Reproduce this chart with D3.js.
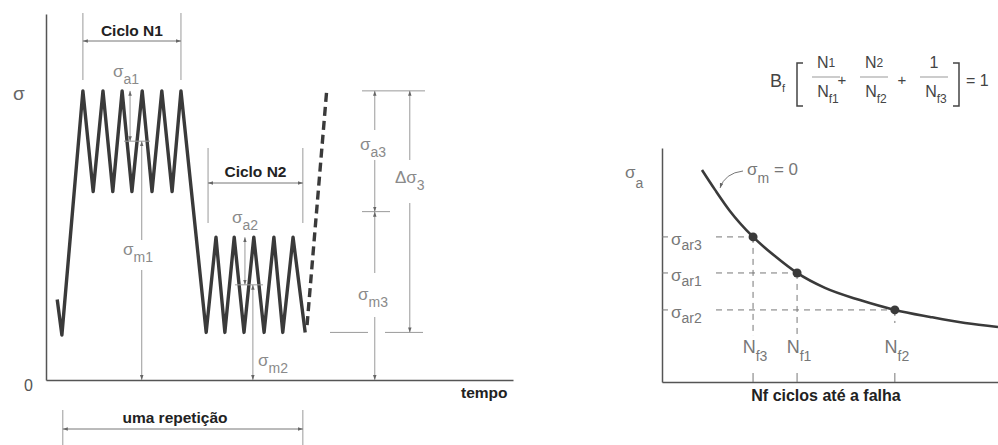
<!DOCTYPE html>
<html><head><meta charset="utf-8">
<script src="https://cdn.jsdelivr.net/npm/d3@7"></script>
<style>
body{margin:0;background:#fff;}
svg{display:block;font-family:"Liberation Sans",Arial,sans-serif;}
</style>
</head><body>
<svg id="c" width="998" height="445"></svg>
<script>
// ---------- data: left panel (stress history) ----------
const timeVals   = [2.4, 3.4, 7.9, 10.1, 12.2, 14.3, 16.3, 18.4, 20.6, 22.7, 24.8, 27.0, 28.9,
                    34.3, 36.4, 38.3, 40.3, 42.4, 44.5, 46.7, 48.8, 50.7, 52.9, 55.5];
const stressVals = [22, 12.3, 79, 51.5, 79, 51.5, 79, 51.5, 79, 51.5, 79, 51.5, 79,
                    13, 39, 13, 39, 13, 39, 13, 39, 13, 39, 13];
const nextTime   = [55.9, 60.1];
const nextStress = [15, 79];
const cycleLabels = ["Ciclo N1", "Ciclo N2"];
const cycleStart  = [7.9, 34.7];
const cycleEnd    = [28.9, 55.0];
const blockMax    = [79, 39, 79];
const blockMin    = [51.5, 13, 13];
const blockSubs   = ["1", "2", "3"];

// ---------- data: right panel (S-N curve) ----------
const nCycles  = [11.9, 15.8, 20.2, 27.1, 33.6, 40.2, 48.5, 58.9, 69.3, 79.8, 90.2, 100];
const ampVals  = [90.6, 82.1, 73.1, 62.0, 53.8, 46.6, 40.2, 35.0, 30.8, 27.8, 25.2, 23.5];
const failN    = [27.1, 40.2, 69.3];
const failAmp  = [62.0, 46.6, 30.8];
const ampSubs  = ["ar3", "ar1", "ar2"];
const nSubs    = ["f3", "f1", "f2"];

const svg = d3.select("#c");
const GRAY = "#8a8a8a", LINE = "#9a9a9a", DARK = "#3a3a3a";
const BOLD = 15.5;

const defs = svg.append("defs");
defs.append("marker").attr("id","ar").attr("viewBox","0 0 10 10")
  .attr("refX",10).attr("refY",5).attr("markerWidth",5).attr("markerHeight",5)
  .attr("orient","auto-start-reverse")
  .append("path").attr("d","M0,1.5L10,5L0,8.5z").attr("fill","#666");

function seg(g, x1, y1, x2, y2, start, end, color) {
  const l = g.append("line").attr("x1",x1).attr("y1",y1).attr("x2",x2).attr("y2",y2)
    .attr("stroke", color || LINE).attr("stroke-width",1);
  if (start) l.attr("marker-start","url(#ar)");
  if (end) l.attr("marker-end","url(#ar)");
  return l;
}
function sig(g, x, y, sub, o) {
  o = o || {};
  const t = g.append("text").attr("x",x).attr("y",y).attr("fill",o.color||GRAY);
  t.append("tspan").attr("font-size",o.size||17).text(o.main||"σ");
  t.append("tspan").attr("font-size",o.subSize||14).attr("dy",o.dy||7).text(sub);
  return t;
}

// ================= LEFT PANEL =================
const xL = d3.scaleLinear().domain([0,100]).range([46,513]);
const yL = d3.scaleLinear().domain([0,100]).range([380,14]);
const L = svg.append("g");

L.append("g").attr("transform",`translate(0,${yL(0)})`)
  .call(d3.axisBottom(xL).ticks(0).tickSizeOuter(0))
  .call(g=>g.select(".domain").attr("stroke","#555").attr("stroke-width",1.5));
L.append("g").attr("transform",`translate(${xL(0)},0)`)
  .call(d3.axisLeft(yL).tickValues([0]).tickSize(0).tickPadding(13).tickSizeOuter(0))
  .call(g=>g.select(".domain").attr("stroke","#555").attr("stroke-width",1.5))
  .call(g=>g.selectAll("text").attr("font-size",16).attr("fill","#555")
    .attr("font-family","Liberation Sans, Arial, sans-serif").attr("dy","0.65em"));

L.append("text").attr("x",13).attr("y",100).attr("font-size",19).attr("fill","#666").text("σ");
L.append("text").attr("x",461).attr("y",398).attr("font-size",BOLD).attr("font-weight","bold")
  .attr("fill","#222").text("tempo");

// waveform
const wave = timeVals.map((t,i)=>[t, stressVals[i]]);
const lineL = d3.line().x(d=>xL(d[0])).y(d=>yL(d[1]));
L.append("path").datum(wave).attr("d",lineL).attr("fill","none")
  .attr("stroke",DARK).attr("stroke-width",3.4).attr("stroke-linejoin","round");
L.append("path").datum(nextTime.map((t,i)=>[t,nextStress[i]])).attr("d",lineL)
  .attr("fill","none").attr("stroke",DARK).attr("stroke-width",3.4)
  .attr("stroke-dasharray","9,5");

// cycle brackets
const cycTop = [13, 148], cycBot = [80, 223], cycArrowY = [41, 183], cycTextY = [36, 177];
cycleLabels.forEach((lab,i)=>{
  const x1 = xL(cycleStart[i]), x2 = xL(cycleEnd[i]);
  seg(L, x1, cycTop[i], x1, cycBot[i]);
  seg(L, x2, cycTop[i], x2, cycBot[i]);
  seg(L, x1, cycArrowY[i], x2, cycArrowY[i], true, true, "#777");
  L.append("text").attr("x",(x1+x2)/2).attr("y",cycTextY[i]).attr("text-anchor","middle")
    .attr("font-size",BOLD).attr("font-weight","bold").attr("fill","#222").text(lab);
});

// block 1 amplitude / mean
{
  const mean = (blockMax[0]+blockMin[0])/2, xa = xL(18.0), xm = xL(20.5);
  seg(L, xa, yL(blockMax[0]), xa, yL(mean), true, true);
  seg(L, xa-6, yL(mean), xa+20, yL(mean));
  seg(L, xm, yL(mean), xm, 240, true, false);
  seg(L, xm, 270, xm, yL(0), false, true);
  sig(L, 113, 77, "a"+blockSubs[0]);
  sig(L, 123, 255, "m"+blockSubs[0]);
}
// block 2
{
  const mean = (blockMax[1]+blockMin[1])/2, xa = xL(42.6), xm = xL(44.3);
  seg(L, xa, yL(blockMax[1]), xa, yL(mean), true, true);
  seg(L, xa-10, yL(mean), xa+18, yL(mean));
  seg(L, xm, yL(mean), xm, yL(0), true, true);
  sig(L, 232, 223, "a"+blockSubs[1]);
  sig(L, 258, 366, "m"+blockSubs[1]);
}
// block 3
{
  const mean = (blockMax[2]+blockMin[2])/2, xs = xL(70.4), xd = xL(77.9);
  const yT = yL(blockMax[2]), yB = yL(blockMin[2]), yM = yL(mean);
  seg(L, 362, yT, 425, yT);
  seg(L, 330, yB, 368, yB);
  seg(L, 385, yB, 423, yB);
  seg(L, 362, yM, 390, yM);
  seg(L, xs, yT, xs, 130, true, false);
  seg(L, xs, 160, xs, yM, false, true);
  seg(L, xs, yM, xs, 273, true, false);
  seg(L, xs, 317, xs, yL(0), false, true);
  seg(L, xd, yT, xd, 160, true, false);
  seg(L, xd, 203, xd, yB, false, true);
  sig(L, 360, 150, "a"+blockSubs[2]);
  sig(L, 358, 300, "m"+blockSubs[2]);
  sig(L, 395, 183, blockSubs[2], {main:"Δσ"});
}

// uma repetição
{
  const x1 = xL(3.6), x2 = xL(55.0);
  seg(L, x1, 410, x1, 445);
  seg(L, x2, 410, x2, 445);
  seg(L, x1, 429, x2, 429, true, true, "#777");
  L.append("text").attr("x",175).attr("y",423).attr("text-anchor","middle")
    .attr("font-size",BOLD).attr("font-weight","bold").attr("fill","#222").text("uma repetição");
}

// ================= RIGHT PANEL =================
const xR = d3.scaleLinear().domain([0,100]).range([662,998]);
const yR = d3.scaleLinear().domain([0,100]).range([382,148]);
const R = svg.append("g");

R.append("g").attr("transform",`translate(0,${yR(0)})`)
  .call(d3.axisBottom(xR).ticks(0).tickSizeOuter(0))
  .call(g=>g.select(".domain").attr("stroke","#555").attr("stroke-width",1.5));
R.append("g").attr("transform",`translate(${xR(0)},0)`)
  .call(d3.axisLeft(yR).ticks(0).tickSizeOuter(0))
  .call(g=>g.select(".domain").attr("stroke","#555").attr("stroke-width",1.5));

sig(R, 625, 178, "a", {dy:10, color:"#777"});
R.append("text").attr("x",826).attr("y",401).attr("text-anchor","middle")
  .attr("font-size",16).attr("font-weight","bold").attr("fill","#222").text("Nf ciclos até a falha");

// guide lines
const vEnd = [336, 336, 323];
failN.forEach((n,i)=>{
  const px = xR(n), py = yR(failAmp[i]);
  seg(R, xR(0), py, xR(0)+6, py, false, false, "#777");
  R.append("line").attr("x1",716).attr("y1",py).attr("x2",px).attr("y2",py)
    .attr("stroke","#777").attr("stroke-width",1).attr("stroke-dasharray","6,5");
  R.append("line").attr("x1",px).attr("y1",py).attr("x2",px).attr("y2",vEnd[i])
    .attr("stroke","#777").attr("stroke-width",1).attr("stroke-dasharray","6,5");
  seg(R, px, 373, px, yR(0), false, false, "#777");
  sig(R, 671, py+8, ampSubs[i], {dy:5, subSize:14, color:"#777"});
  const t = R.append("text").attr("x",px+2).attr("y",353).attr("text-anchor","middle").attr("fill","#777");
  t.append("tspan").attr("font-size",18).text("N");
  t.append("tspan").attr("font-size",14).attr("dy",8).text(nSubs[i]);
});

// curve
const lineR = d3.line().x(d=>xR(d[0])).y(d=>yR(d[1])).curve(d3.curveMonotoneX);
R.append("path").datum(nCycles.map((n,i)=>[n,ampVals[i]])).attr("d",lineR)
  .attr("fill","none").attr("stroke",DARK).attr("stroke-width",2.6);
R.selectAll("circle.pt").data(failN).enter().append("circle").attr("class","pt")
  .attr("cx",d=>xR(d)).attr("cy",(d,i)=>yR(failAmp[i])).attr("r",4.5).attr("fill",DARK);

// sigma_m = 0 label with leader
R.append("path").attr("d","M720,188 Q725,173 743,171").attr("fill","none")
  .attr("stroke","#777").attr("stroke-width",1).attr("marker-start","url(#ar)");
{
  const t = R.append("text").attr("x",747).attr("y",175).attr("fill","#777");
  t.append("tspan").attr("font-size",17).text("σ");
  t.append("tspan").attr("font-size",14).attr("dy",8).text("m");
  t.append("tspan").attr("font-size",17).attr("dy",-8).text(" = 0");
}

// equation
{
  const E = svg.append("g").attr("fill","#444");
  const b = E.append("text").attr("x",770).attr("y",87);
  b.append("tspan").attr("font-size",18).text("B");
  b.append("tspan").attr("font-size",11).attr("dy",5).text("f");
  E.append("path").attr("d","M803,63H797V106H803").attr("fill","none").attr("stroke","#444").attr("stroke-width",1.5);
  E.append("path").attr("d","M953,63H959V106H953").attr("fill","none").attr("stroke","#444").attr("stroke-width",1.5);
  const fr = [
    {cx:826, num:"N", numSub:"1", den:"f1"},
    {cx:874, num:"N", numSub:"2", den:"f2"},
    {cx:934, num:"1", numSub:"",  den:"f3"}
  ];
  fr.forEach(f=>{
    const n = E.append("text").attr("x",f.cx).attr("y",68).attr("text-anchor","middle");
    n.append("tspan").attr("font-size",16).text(f.num);
    if (f.numSub) n.append("tspan").attr("font-size",12).attr("dy",-1).text(f.numSub);
    E.append("line").attr("x1",f.cx-14).attr("x2",f.cx+14).attr("y1",77).attr("y2",77)
      .attr("stroke","#999").attr("stroke-width",1);
    const d = E.append("text").attr("x",f.cx+2).attr("y",97).attr("text-anchor","middle");
    d.append("tspan").attr("font-size",16).text("N");
    d.append("tspan").attr("font-size",12).attr("dy",6).text(f.den);
  });
  E.append("text").attr("x",842).attr("y",85).attr("text-anchor","middle").attr("font-size",15).text("+");
  E.append("text").attr("x",902).attr("y",85).attr("text-anchor","middle").attr("font-size",15).text("+");
  E.append("text").attr("x",966).attr("y",86).attr("font-size",16).text("= 1");
}
</script>
</body></html>
